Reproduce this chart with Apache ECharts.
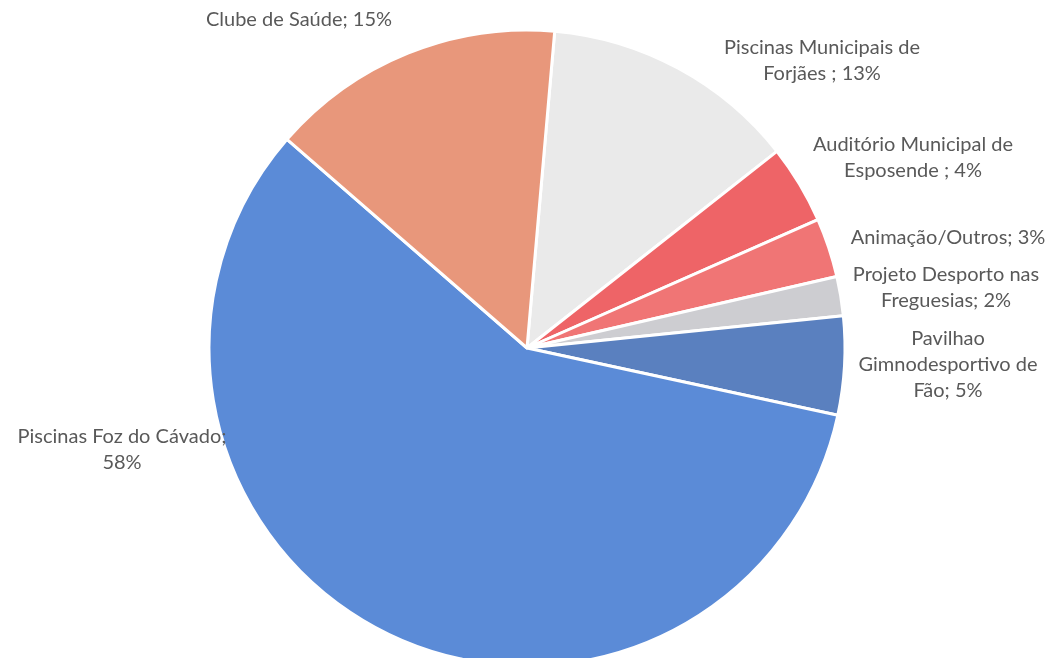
<!DOCTYPE html>
<html>
<head>
<meta charset="utf-8">
<script src="https://cdn.jsdelivr.net/npm/echarts@6/dist/echarts.min.js"></script>
<style>html,body{margin:0;padding:0;background:#fff;}#c{width:1056px;height:658px;}</style>
</head>
<body>
<div id="c"></div>
<script>
var categories = [
  "Piscinas Municipais de\nForjães ",
  "Auditório Municipal de\nEsposende ",
  "Animação/Outros",
  "Projeto Desporto nas\nFreguesias",
  "Pavilhao\nGimnodesportivo de\nFão",
  "Piscinas Foz do Cávado;\n",
  "Clube de Saúde"
];
var values = [13, 4, 3, 2, 5, 58, 15];
var colors = ["#EAEAEA", "#EE6467", "#F07575", "#CDCDD1", "#5A80BF", "#5B8BD7", "#E8977B"];
var labelPos = [[822, 61], [913, 158], [948, 238], [946, 288], [948, 365], [122, 450], [299, 20]];

var chart = echarts.init(document.getElementById('c'));
chart.setOption({
  animation: false,
  series: [{
    type: 'pie',
    center: [527, 348],
    radius: 318,
    startAngle: 85,
    clockwise: true,
    data: categories.map(function (n, i) {
      return { name: n, value: values[i], itemStyle: { color: colors[i] } };
    }),
    itemStyle: { borderColor: '#ffffff', borderWidth: 3 },
    label: {
      show: true,
      position: 'outside',
      color: '#595959',
      fontFamily: 'Lato',
      fontSize: 20,
      lineHeight: 26,
      align: 'center',
      overflow: 'none',
      width: 400,
      formatter: function (p) {
        var n = p.name;
        if (n.charAt(n.length - 1) === '\n') return n + p.value + '%';
        return n + '; ' + p.value + '%';
      }
    },
    labelLine: { show: false },
    labelLayout: function (p) {
      var pos = labelPos[p.dataIndex];
      return { x: pos[0], y: pos[1], align: 'center', verticalAlign: 'middle' };
    }
  }]
});
</script>
</body>
</html>
